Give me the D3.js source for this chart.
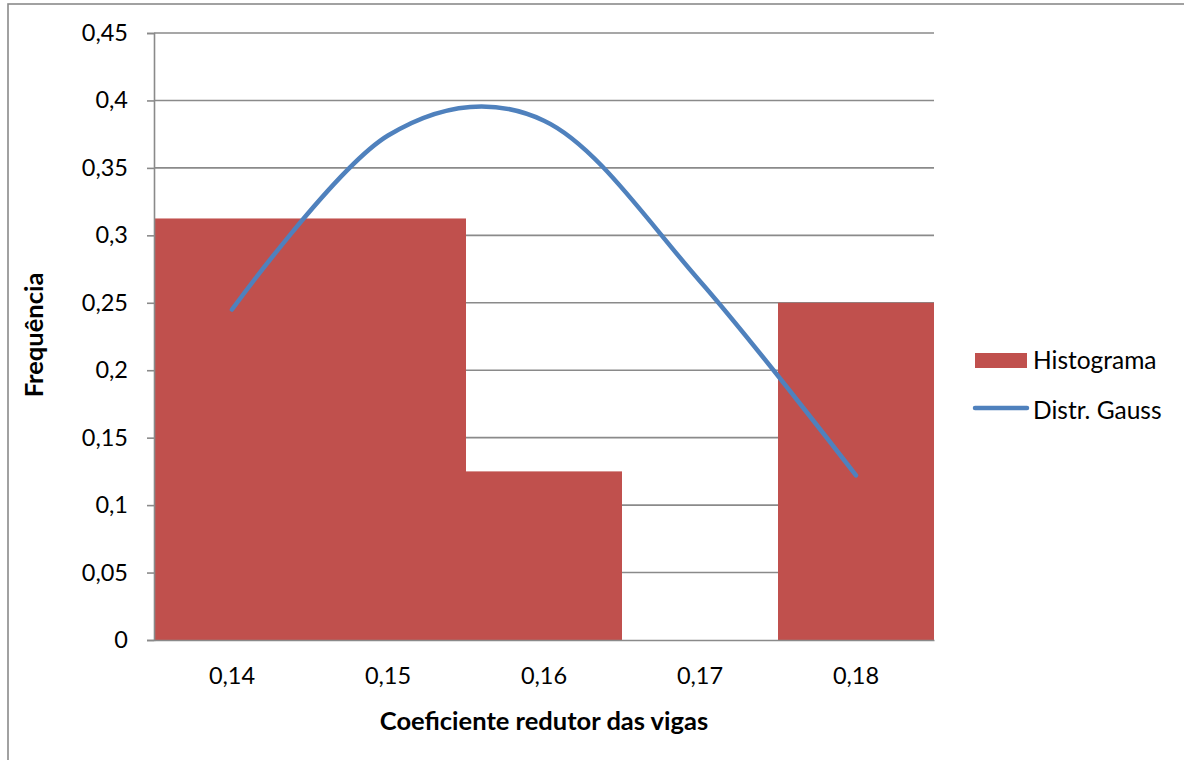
<!DOCTYPE html>
<html>
<head>
<meta charset="utf-8">
<script src="https://cdn.jsdelivr.net/npm/d3@7"></script>
<style>
  html, body { margin: 0; padding: 0; background: #fff; }
  svg { display: block; }
  text { font-family: Lato, "Open Sans", sans-serif; fill: #000; }
</style>
</head>
<body>
<svg id="chart" width="1184" height="760"></svg>
<script>
// ---- data ----
const categories = ["0,14", "0,15", "0,16", "0,17", "0,18"];
const histograma = [0.3125, 0.3125, 0.125, 0, 0.25];
const gauss = [0.245, 0.374, 0.385, 0.266, 0.122];
const yTicks = [0, 0.05, 0.1, 0.15, 0.2, 0.25, 0.3, 0.35, 0.4, 0.45];
const yTickLabels = ["0", "0,05", "0,1", "0,15", "0,2", "0,25", "0,3", "0,35", "0,4", "0,45"];
const seriesNames = ["Histograma", "Distr. Gauss"];
const xTitle = "Coeficiente redutor das vigas";
const yTitle = "Frequência";

// ---- layout ----
const svg = d3.select("#chart");
const plot = { left: 154, right: 934, top: 33, bottom: 640 };
const barColor = "#C0504D";
const lineColor = "#4F81BD";
const gridColor = "#8A8A8A";

// chart border (partially cut off like the reference)
svg.append("rect")
  .attr("x", 8).attr("y", 4)
  .attr("width", 1300).attr("height", 900)
  .attr("fill", "none").attr("stroke", gridColor).attr("stroke-width", 1.6);

const x = d3.scaleBand().domain(categories).range([plot.left, plot.right]).padding(0);
const y = d3.scaleLinear().domain([0, 0.45]).range([plot.bottom, plot.top]);

// gridlines
svg.append("g").selectAll("line")
  .data(yTicks.filter(d => d > 0))
  .join("line")
  .attr("x1", plot.left).attr("x2", plot.right)
  .attr("y1", d => y(d)).attr("y2", d => y(d))
  .attr("stroke", gridColor).attr("stroke-width", 1.6);

// bars
svg.append("g").selectAll("rect")
  .data(categories.map((c, i) => ({ c, v: histograma[i] })))
  .join("rect")
  .attr("x", d => x(d.c))
  .attr("width", x.bandwidth())
  .attr("y", d => y(d.v))
  .attr("height", d => y(0) - y(d.v))
  .attr("fill", barColor);

// y axis
const yAxis = d3.axisLeft(y)
  .tickValues(yTicks)
  .tickSize(7)
  .tickPadding(19)
  .tickFormat((d, i) => yTickLabels[i]);
const gy = svg.append("g").attr("transform", `translate(${plot.left},0)`).call(yAxis);
gy.select(".domain").attr("stroke", gridColor).attr("stroke-width", 1.6);
gy.selectAll(".tick line").attr("stroke", gridColor).attr("stroke-width", 1.6);
gy.selectAll(".tick text").style("font-size", "23.5px").style("font-family", "Lato, sans-serif").attr("fill", "#000");

// x axis
const xAxis = d3.axisBottom(x).tickSize(0).tickPadding(27);
const gx = svg.append("g").attr("transform", `translate(0,${plot.bottom})`).call(xAxis);
gx.select(".domain").attr("stroke", gridColor).attr("stroke-width", 1.6);
gx.selectAll(".tick text").style("font-size", "23.5px").style("font-family", "Lato, sans-serif").attr("fill", "#000");

// gauss line
const line = d3.line()
  .x((d, i) => x(categories[i]) + x.bandwidth() / 2)
  .y(d => y(d))
  .curve(d3.curveCardinal.tension(0));
svg.append("path")
  .datum(gauss)
  .attr("d", line)
  .attr("fill", "none")
  .attr("stroke", lineColor)
  .attr("stroke-width", 4.5)
  .attr("stroke-linecap", "round");

// axis titles
svg.append("text")
  .attr("x", (plot.left + plot.right) / 2).attr("y", 730)
  .attr("text-anchor", "middle")
  .style("font-size", "25.5px").style("font-weight", "bold")
  .text(xTitle);
svg.append("text")
  .attr("transform", "translate(43,335) rotate(-90)")
  .attr("text-anchor", "middle")
  .style("font-size", "25.5px").style("font-weight", "bold")
  .text(yTitle);

// legend
const lg = svg.append("g");
lg.append("rect")
  .attr("x", 975).attr("y", 353).attr("width", 52).attr("height", 15)
  .attr("fill", barColor);
lg.append("text")
  .attr("x", 1033).attr("y", 360).attr("dy", "0.35em")
  .style("font-size", "24.5px").text(seriesNames[0]);
lg.append("line")
  .attr("x1", 975).attr("x2", 1027).attr("y1", 408).attr("y2", 408)
  .attr("stroke", lineColor).attr("stroke-width", 4.5).attr("stroke-linecap", "round");
lg.append("text")
  .attr("x", 1033).attr("y", 410).attr("dy", "0.35em")
  .style("font-size", "24.5px").text(seriesNames[1]);
</script>
</body>
</html>
